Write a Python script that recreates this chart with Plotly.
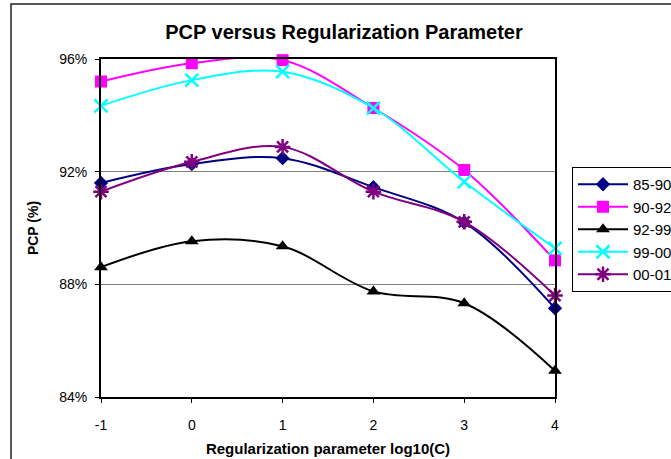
import plotly.graph_objects as go

# Regularization parameter (log10 C) and PCP per period, in percent
log_c = [-1, 0, 1, 2, 3, 4]
log_c_labels = ["-1", "0", "1", "2", "3", "4"]
pcp_ticks = [84, 88, 92, 96]
pcp_tick_labels = ["84%", "88%", "92%", "96%"]

pcp_85_90 = [91.6, 92.27, 92.48, 91.45, 90.2, 87.15]
pcp_90_92 = [95.2, 95.85, 95.96, 94.26, 92.06, 88.85]
pcp_92_99 = [88.61, 89.53, 89.35, 87.75, 87.33, 84.93]
pcp_99_00 = [94.34, 95.25, 95.55, 94.26, 91.64, 89.28]
pcp_00_01 = [91.29, 92.35, 92.88, 91.29, 90.22, 87.6]

series = [
    ("85-90", pcp_85_90, "#000080", "diamond", 11),
    ("90-92", pcp_90_92, "#FF00FF", "square", 12),
    ("92-99", pcp_92_99, "#000000", "triangle-up", 12),
    ("99-00", pcp_99_00, "#00FFFF", "x-thin-open", 13),
    ("00-01", pcp_00_01, "#800080", "asterisk-open", 13),
]

fig = go.Figure()
for name, vals, color, symbol, size in series:
    marker = dict(symbol=symbol, size=size, color=color)
    if symbol.endswith("open"):
        marker["line"] = dict(color=color, width=2.5)
    fig.add_trace(go.Scatter(
        x=log_c, y=vals, name=name, mode="lines+markers",
        line=dict(color=color, width=2, shape="spline", smoothing=1.0),
        marker=marker, cliponaxis=False,
    ))

W, H = 671, 459
L, R, T, B = 101, 116, 59, 62
pw, ph = W - L - R, H - T - B

fig.update_layout(
    width=W, height=H,
    margin=dict(l=L, r=R, t=T, b=B, autoexpand=False),
    paper_bgcolor="white", plot_bgcolor="white",
    font=dict(family="Liberation Sans, Arial", size=13, color="#000000"),
    title=dict(text="<b>PCP versus Regularization Parameter</b>",
               font=dict(size=20), xref="container", x=344 / W, xanchor="center",
               yref="container", y=1 - 32 / H, yanchor="middle"),
    xaxis=dict(range=[-1, 4], tickvals=log_c, ticktext=log_c_labels,
               ticks="outside", ticklen=4, tickwidth=1, tickcolor="black",
               ticklabelstandoff=10, automargin=False,
               showline=True, linewidth=2, linecolor="black", mirror=True,
               showgrid=False, zeroline=False,
               title=dict(text="<b>Regularization parameter log10(C)</b>",
                          font=dict(size=15), standoff=12),
               tickfont=dict(size=14)),
    yaxis=dict(range=[84, 96], tickvals=pcp_ticks, ticktext=pcp_tick_labels,
               ticks="outside", ticklen=4, tickwidth=1, tickcolor="black",
               ticklabelstandoff=5, automargin=False,
               showline=True, linewidth=2, linecolor="black", mirror=True,
               showgrid=True, gridcolor="#808080", gridwidth=1, zeroline=False,
               title=dict(text="<b>PCP (%)</b>", font=dict(size=14), standoff=17),
               tickfont=dict(size=14)),
    legend=dict(x=(572 - L) / pw, xanchor="left", y=1 - (167 - T) / ph, yanchor="top",
                bordercolor="black", borderwidth=1, bgcolor="white",
                font=dict(size=15), tracegroupgap=0, itemwidth=50),
    showlegend=True,
)

# Outer chart frame
fig.add_shape(type="rect", xref="paper", yref="paper",
              x0=(11 - L) / pw, x1=(700 - L) / pw,
              y0=1 - (480 - T) / ph, y1=1 - (4 - T) / ph,
              line=dict(color="#222222", width=1.5), layer="below")

fig.write_html("out.html")
